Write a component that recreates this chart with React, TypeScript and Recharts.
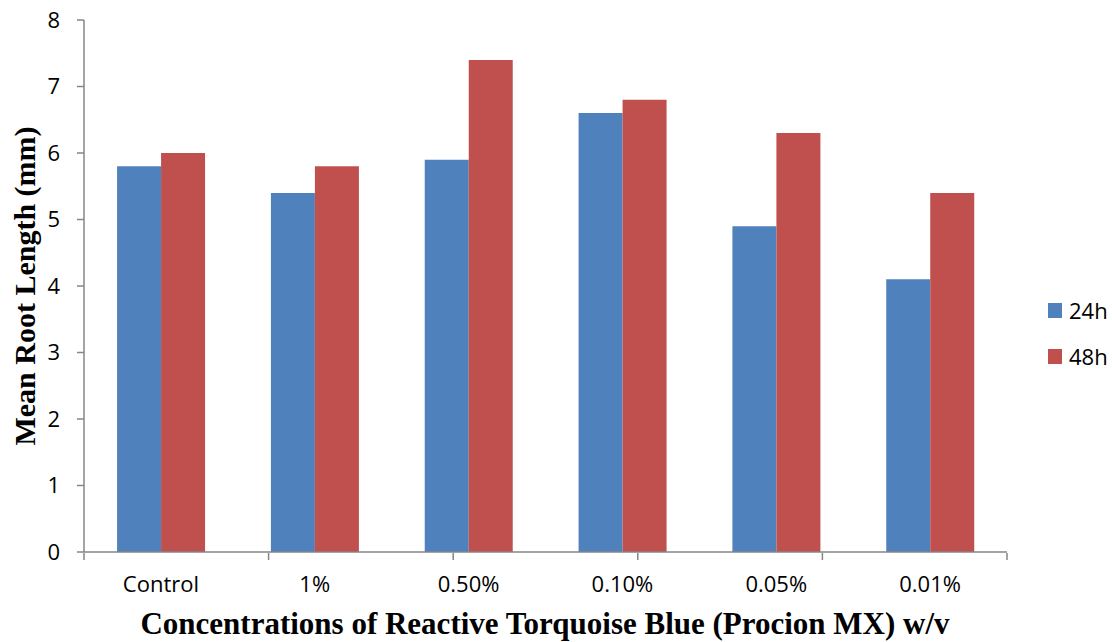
import React from 'react';
import { BarChart, Bar, XAxis, YAxis, Label } from 'recharts';

const categories = ['Control', '1%', '0.50%', '0.10%', '0.05%', '0.01%'];
const series24h = [5.8, 5.4, 5.9, 6.6, 4.9, 4.1];
const series48h = [6.0, 5.8, 7.4, 6.8, 6.3, 5.4];
const yTicks = [0, 1, 2, 3, 4, 5, 6, 7, 8];
const edgeTicks = [0, 1, 2, 3, 4, 5, 6];
const seriesNames = ['24h', '48h'];
const seriesColors = ['#4F81BD', '#C0504D'];

const data = categories.map((c, i) => ({ name: c, h24: series24h[i], h48: series48h[i] }));

const AXIS = '#868686';
const TICK_FONT = { fontFamily: '"Open Sans", sans-serif', fontSize: 22, fill: '#000' };
const TITLE_FONT = '"Liberation Serif", "Times New Roman", serif';

export default function App() {
  return (
    <div style={{ position: 'absolute', left: 0, top: 0, width: 1112, height: 642, background: '#fff' }}>
      <BarChart
        width={1112}
        height={642}
        data={data}
        margin={{ top: 20, right: 105, left: 0, bottom: 0 }}
        barCategoryGap="21.5%"
        barGap={0}
      >
        <XAxis
          dataKey="name"
          height={1}
          axisLine={{ stroke: AXIS, strokeWidth: 1.5 }}
          tickLine={false}
          tickSize={6}
          tickMargin={18}
          tick={TICK_FONT}
          interval={0}
        />
        <XAxis
          xAxisId="edges"
          type="number"
          domain={[0, 6]}
          ticks={edgeTicks}
          interval={0}
          height={89}
          tickSize={7}
          tick={() => <g />}
          axisLine={false}
          tickLine={{ stroke: AXIS, strokeWidth: 1.5 }}
        >
          <Label
            content={() => (
              <text
                x={545}
                y={634}
                textAnchor="middle"
                style={{ fontFamily: TITLE_FONT, fontWeight: 'bold', fontSize: 31, fill: '#000' }}
              >
                Concentrations of Reactive Torquoise Blue (Procion MX) w/v
              </text>
            )}
          />
        </XAxis>
        <YAxis
          width={84}
          domain={[0, 8]}
          ticks={yTicks}
          interval={0}
          tickSize={7}
          tickMargin={17}
          tick={TICK_FONT}
          axisLine={{ stroke: AXIS, strokeWidth: 1.5 }}
          tickLine={{ stroke: AXIS, strokeWidth: 1.5 }}
        >
          <Label
            content={() => (
              <text
                x={35}
                y={286}
                textAnchor="middle"
                transform="rotate(-90 35 286)"
                style={{ fontFamily: TITLE_FONT, fontWeight: 'bold', fontSize: 30, fill: '#000' }}
              >
                Mean Root Length (mm)
              </text>
            )}
          />
        </YAxis>
        <Bar dataKey="h24" name={seriesNames[0]} fill={seriesColors[0]} isAnimationActive={false} />
        <Bar dataKey="h48" name={seriesNames[1]} fill={seriesColors[1]} isAnimationActive={false} />
      </BarChart>
      {seriesNames.map((n, i) => (
        <div
          key={n}
          style={{
            position: 'absolute',
            left: 1048,
            top: 299 + i * 46,
            height: 22,
            display: 'flex',
            alignItems: 'center',
            fontFamily: '"Open Sans", sans-serif',
            fontSize: 22,
            color: '#000',
            lineHeight: '22px',
          }}
        >
          <span style={{ display: 'inline-block', width: 14, height: 15, background: seriesColors[i], marginRight: 7 }} />
          <span>{n}</span>
        </div>
      ))}
    </div>
  );
}
